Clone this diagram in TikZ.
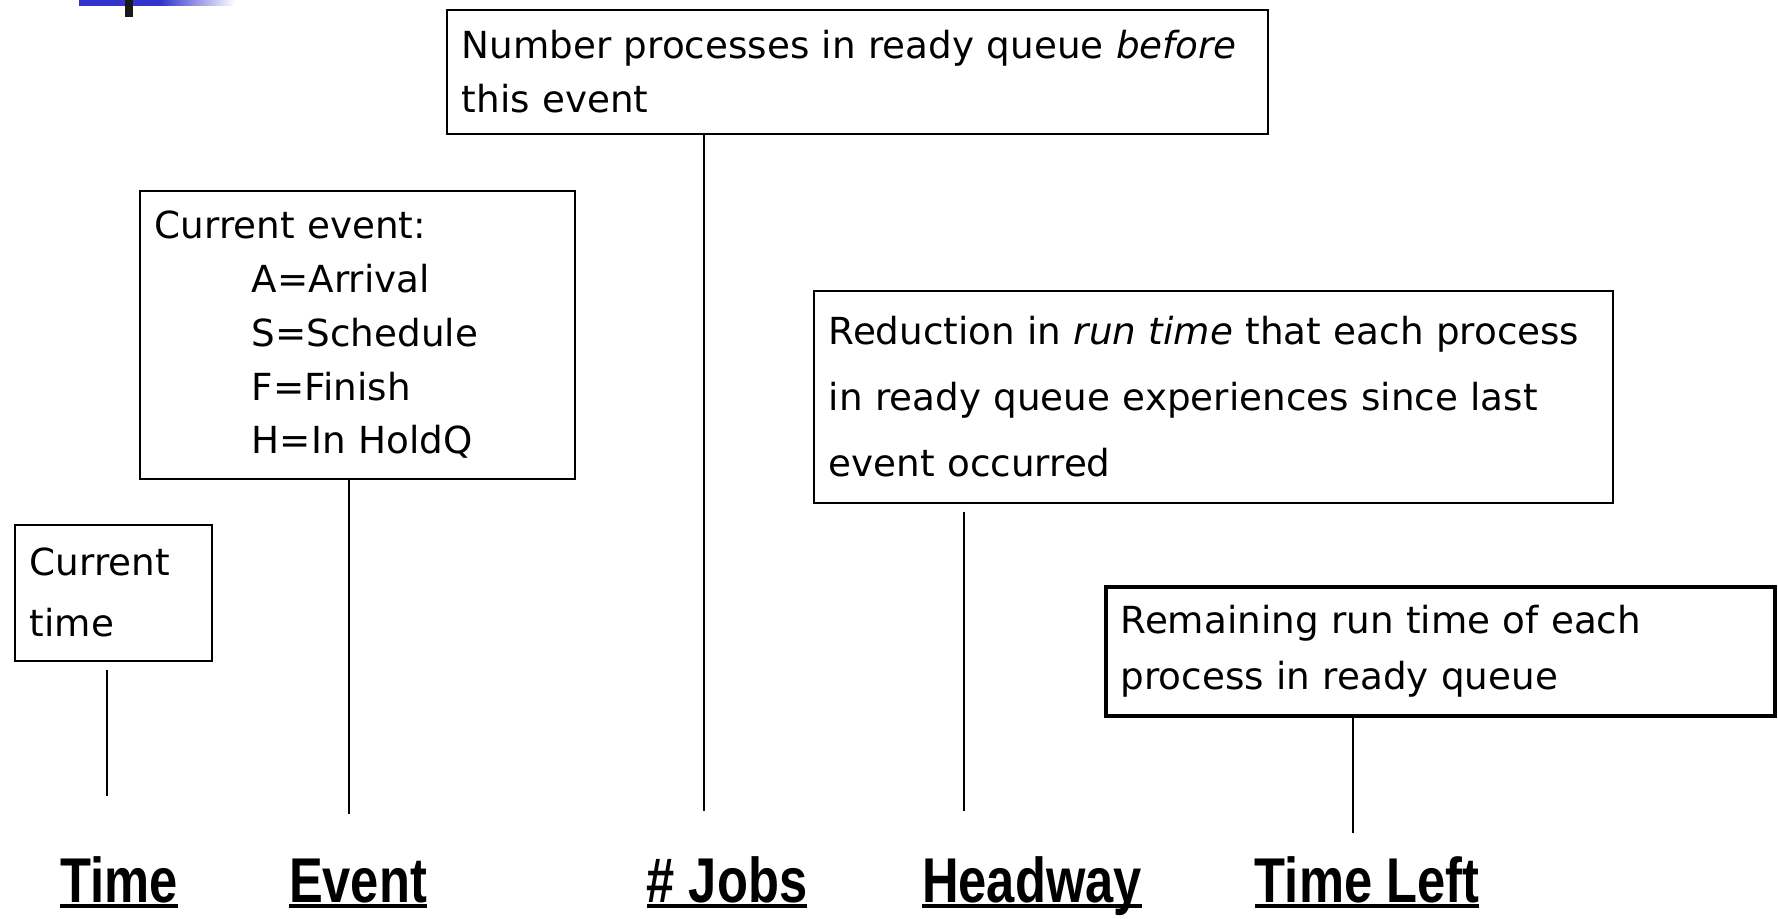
\documentclass[tikz,border=0pt]{standalone}
\usepackage{fontspec}
\setmainfont{DejaVu Sans}
\newfontfamily\headfont{Liberation Sans}
\usetikzlibrary{positioning,calc}
\definecolor{slideblue}{RGB}{51,51,204}
% underlined column heading
\newcommand{\colname}[1]{\scalebox{0.8}[1]{\setbox0\hbox{#1}\rlap{\rule[-1.4pt]{\wd0}{1.2pt}}\box0}}

\begin{document}
\begin{tikzpicture}[
			x=0.01cm, y=-0.01cm,
			infobox/.style={
				draw,
				line width=0.45pt,
				anchor=north west,
				align=left,
				inner xsep=0.15cm,
				inner ysep=0pt,
				font=\fontsize{10.6}{15.3}\selectfont
			},
			thickbox/.style={infobox, line width=1pt},
			colhead/.style={
				anchor=base,
				inner sep=0pt,
				font=\headfont\bfseries\fontsize{18}{18}\selectfont
			},
			conn/.style={line width=0.45pt}
			]
			\useasboundingbox (0,0) rectangle (1778,919);
			
			% slide corner
			\fill[slideblue] (79,0) rectangle (160,6);
			\shade[left color=slideblue, right color=white] (160,0) rectangle (235,6);
			\fill[black!90] (125,0) rectangle (133,17);
			
			% Explanation boxes
			\node[infobox, text width=7.91cm, minimum height=1.24cm] (num) at (446,9)
				{Number processes in ready queue \textit{before}\\ this event};
			\node[infobox, text width=4.05cm, minimum height=2.88cm] (ev) at (139,190)
				{Current event:\\ \hspace*{0.97cm}A=Arrival\\ \hspace*{0.97cm}S=Schedule\\
				 \hspace*{0.97cm}F=Finish\\ \hspace*{0.97cm}H=In HoldQ};
			\node[infobox, text width=1.67cm, minimum height=1.36cm,
				font=\fontsize{10.6}{17.3}\selectfont] (tm) at (14,524)
				{Current\\ time};
			\node[infobox, text width=7.69cm, minimum height=2.12cm,
				font=\fontsize{10.6}{18.8}\selectfont] (hw) at (813,290)
				{Reduction in \textit{run time} that each process\\
				 in ready queue experiences since last\\ event occurred};
			\node[thickbox, text width=6.39cm, minimum height=1.29cm,
				font=\fontsize{10.6}{15.9}\selectfont] (tl) at (1104,585)
				{Remaining run time of each\\ process in ready queue};
			
			% Column headings
			\node[colhead] (tmhead) at (119,903) {\colname{Time}};
			\node[colhead] (evhead) at (358,903) {\colname{Event}};
			\node[colhead] (numhead) at (727,903) {\colname{\# Jobs}};
			\node[colhead] (hwhead) at (1032,903) {\colname{Headway}};
			\node[colhead] (tlhead) at (1367,903) {\colname{Time Left}};
			
			% Line ends above the headings
			\coordinate (tmend) at (107,796);
			\coordinate (evend) at (349,814);
			\coordinate (numend) at (704,811);
			\coordinate (hwend) at (964,811);
			\coordinate (tlend) at (1353,833);
			
			% Connectors
			\draw[conn, shorten <=0.08cm] (tm.south -| tmend) -- (tmend);
			\draw[conn] (ev.south -| evend) -- (evend);
			\draw[conn] (num.south -| numend) -- (numend);
			\draw[conn, shorten <=0.08cm] (hw.south -| hwend) -- (hwend);
			\draw[conn] (tl.south -| tlend) -- (tlend);
			
		\end{tikzpicture}
\end{document}
